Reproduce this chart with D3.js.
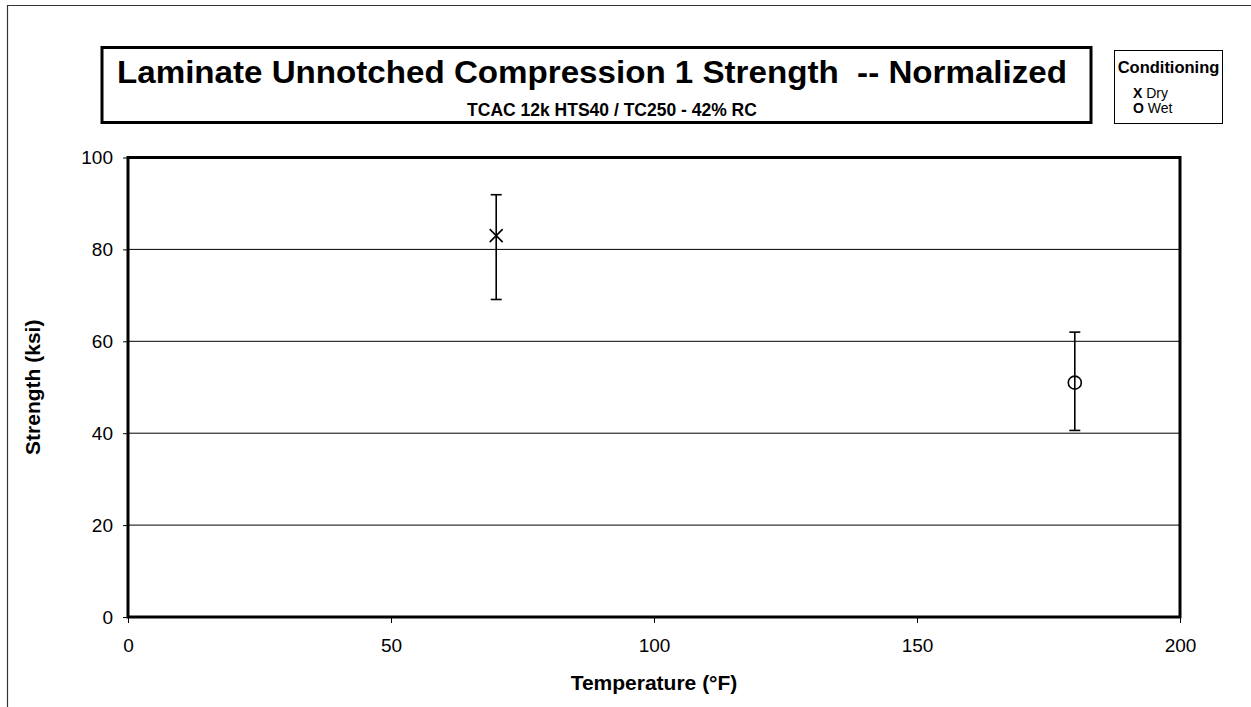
<!DOCTYPE html>
<html><head><meta charset="utf-8">
<script src="https://cdn.jsdelivr.net/npm/d3@7"></script>
<style>body{margin:0;background:#fff;font-family:"Liberation Sans",Arial,sans-serif}</style>
</head><body><svg id="c" width="1251" height="707"></svg>
<script>
const titleText = "Laminate Unnotched Compression 1 Strength\u00a0 -- Normalized";
const subtitleText = "TCAC 12k HTS40 / TC250 - 42% RC";
const conditions = ["Dry", "Wet"];
const markers = ["X", "O"];
const temps = [70, 180];
const means = [83.0, 51.0];
const highs = [91.9, 62.0];
const lows = [69.1, 40.6];
const xTicks = [0, 50, 100, 150, 200];
const yTicks = [0, 20, 40, 60, 80, 100];

const svg = d3.select("#c");
const F = '"Liberation Sans", Arial, sans-serif';

// outer frame
svg.append("path").attr("d","M7.5,707 V5.5 H1251").attr("fill","none").attr("stroke","#333").attr("stroke-width",1.2);

const L=128, R=1180, T=157.5, B=617;
const x = d3.scaleLinear().domain([0,200]).range([L,R]);
const y = d3.scaleLinear().domain([0,100]).range([B,T]);

// gridlines
svg.append("g").selectAll("line").data(yTicks.filter(d=>d>0&&d<100)).join("line")
  .attr("x1",L).attr("x2",R).attr("y1",d=>y(d)).attr("y2",d=>y(d))
  .attr("stroke","#000").attr("stroke-width",1);

// axes
const ya = svg.append("g").attr("transform",`translate(${L},0)`)
  .call(d3.axisLeft(y).tickValues(yTicks).tickSize(5).tickPadding(10).tickFormat(d3.format("d")));
const xa = svg.append("g").attr("transform",`translate(0,${B})`)
  .call(d3.axisBottom(x).tickValues(xTicks).tickSize(6).tickPadding(16).tickFormat(d3.format("d")));
[ya,xa].forEach(g=>{
  g.select(".domain").remove();
  g.selectAll("text").attr("font-family",F).attr("font-size",19).attr("fill","#000");
  g.selectAll("line").attr("stroke","#000");
});

// plot border
svg.append("rect").attr("x",L).attr("y",T).attr("width",R-L).attr("height",B-T)
  .attr("fill","none").attr("stroke","#000").attr("stroke-width",3);

// error bars + markers
const pts = temps.map((t,i)=>({t,m:means[i],h:highs[i],l:lows[i],k:markers[i]}));
const g = svg.append("g");
pts.forEach(p=>{
  const cx=x(p.t);
  g.append("line").attr("x1",cx).attr("x2",cx).attr("y1",y(p.h)).attr("y2",y(p.l)).attr("stroke","#000").attr("stroke-width",1.6);
  [p.h,p.l].forEach(v=>g.append("line").attr("x1",cx-5.5).attr("x2",cx+5.5).attr("y1",y(v)).attr("y2",y(v)).attr("stroke","#000").attr("stroke-width",1.6));
  const cy=y(p.m);
  if(p.k==="X"){
    g.append("path").attr("d",`M${cx-6.5},${cy-6.5}L${cx+6.5},${cy+6.5}M${cx+6.5},${cy-6.5}L${cx-6.5},${cy+6.5}`).attr("stroke","#000").attr("stroke-width",1.6);
  } else {
    g.append("circle").attr("cx",cx).attr("cy",cy).attr("r",6.5).attr("fill","none").attr("stroke","#000").attr("stroke-width",1.6);
  }
});

// axis titles
svg.append("text").attr("x",(L+R)/2).attr("y",690).attr("text-anchor","middle")
  .attr("font-family",F).attr("font-size",21).attr("font-weight","bold").text("Temperature (°F)");
svg.append("text").attr("transform",`translate(40,${(T+B)/2}) rotate(-90)`).attr("text-anchor","middle")
  .attr("font-family",F).attr("font-size",21).attr("font-weight","bold").text("Strength (ksi)");

// title box
svg.append("rect").attr("x",102).attr("y",47.5).attr("width",989).attr("height",75)
  .attr("fill","#fff").attr("stroke","#000").attr("stroke-width",3);
svg.append("text").attr("x",592).attr("y",83).attr("text-anchor","middle")
  .attr("font-family",F).attr("font-size",31).attr("font-weight","bold")
  .attr("textLength",950).attr("lengthAdjust","spacingAndGlyphs").text(titleText);
svg.append("text").attr("x",612).attr("y",116).attr("text-anchor","middle")
  .attr("font-family",F).attr("font-size",17.5).attr("font-weight","bold").text(subtitleText);

// legend
svg.append("rect").attr("x",1114.5).attr("y",50.5).attr("width",108).attr("height",73)
  .attr("fill","#fff").attr("stroke","#000").attr("stroke-width",1);
svg.append("text").attr("x",1168.5).attr("y",73).attr("text-anchor","middle")
  .attr("font-family",F).attr("font-size",16.5).attr("font-weight","bold").text("Conditioning");
conditions.forEach((c,i)=>{
  const t = svg.append("text").attr("x",1133).attr("y",98+i*15).attr("font-family",F).attr("font-size",14);
  t.append("tspan").attr("font-weight","bold").text(markers[i]);
  t.append("tspan").text(" "+c);
});
</script></body></html>
